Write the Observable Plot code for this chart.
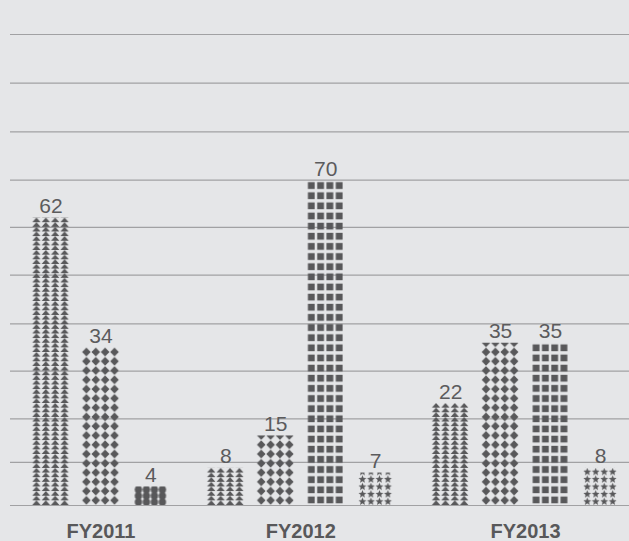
<!DOCTYPE html>
<html><head><meta charset="utf-8">
<script src="https://cdn.jsdelivr.net/npm/d3@7"></script>
<script src="https://cdn.jsdelivr.net/npm/@observablehq/plot@0.6"></script>
<style>
html,body{margin:0;padding:0;background:#e5e6e8;}
#chart svg{display:block;}
</style></head><body><div id="chart"></div>
<script>
// ---- data ----
const groups = ["FY2011", "FY2012", "FY2013"];
const barGroup = ["FY2011","FY2011","FY2011","FY2012","FY2012","FY2012","FY2012","FY2013","FY2013","FY2013","FY2013"];
const barSymbol = ["triangle","diamond","circle","triangle","diamond","square","star","triangle","diamond","square","star"];
const barValue = [62, 34, 4, 8, 15, 70, 7, 22, 35, 35, 8];
const gridValues = [0, 9.3, 18.7, 29, 39.2, 49.7, 60, 70.2, 80.6, 91.1, 101.6];

// ---- style ----
const INK = "#58585a";
const symbolStyle = {
  triangle: {half: 0.375, unitsPerRow: 1},
  diamond:  {half: 0.375, unitsPerRow: 2},
  circle:   {half: 0.32,  unitsPerRow: 4 / 3},
  square:   {half: 0.372, unitsPerRow: 70 / 32},
  star:     {half: 0.34,  unitsPerRow: 1.6}
};
const GROUP_GAP = 0.5;

// ---- table built from the arrays ----
let slot = 0;
const rows = [];
const groupCenters = [];
groups.forEach((g, gi) => {
  if (gi > 0) slot += GROUP_GAP;
  const first = slot;
  barGroup.forEach((bg, i) => {
    if (bg === g) { rows.push({group: g, symbol: barSymbol[i], value: barValue[i], slot}); slot++; }
  });
  groupCenters.push({group: g, slot: (first + slot - 1) / 2});
});

const chart = Plot.plot({
  width: 629, height: 541,
  marginLeft: 10, marginRight: 0, marginTop: 34, marginBottom: 36,
  x: {type: "linear", domain: [-0.811, 11.581], axis: null},
  y: {domain: [0, 101.6], axis: null},
  style: {background: "#e5e6e8", fontFamily: "'Liberation Sans', Arial, sans-serif", overflow: "visible"},
  marks: [
    Plot.ruleY(gridValues, {stroke: "#a1a1a3", strokeWidth: 1.2}),
    Plot.rectY(rows, {
      x1: d => d.slot - symbolStyle[d.symbol].half,
      x2: d => d.slot + symbolStyle[d.symbol].half,
      y1: 0, y2: "value", fill: INK
    }),
    Plot.text(rows, {x: "slot", y: "value", text: d => String(d.value), dy: -5, lineAnchor: "bottom",
      fontSize: 21, fill: "#5b5b5d"}),
    Plot.text(groupCenters, {x: "slot", frameAnchor: "bottom", text: "group", dy: 32, lineAnchor: "bottom",
      fontSize: 20, fontWeight: "bold", fill: INK})
  ]
});
document.getElementById("chart").appendChild(chart);

// ---- pictogram fills: one pattern per bar, aligned to the bar and its baseline ----
const ns = "http://www.w3.org/2000/svg";
const defs = document.createElementNS(ns, "defs");
chart.insertBefore(defs, chart.firstChild);
const ys = chart.scale("y");
const unitPx = ys.apply(0) - ys.apply(1);

function symbolMarkup(sym, tw, th) {
  const cx = tw / 2, cy = th / 2;
  switch (sym) {
    case "triangle":
      return `<polygon points="${cx},0 ${tw - 0.5},${th} 0.5,${th}" fill="${INK}"/>`;
    case "diamond":
      return `<polygon points="${cx},0.3 ${tw - 0.4},${cy} ${cx},${th - 0.3} 0.4,${cy}" fill="${INK}"/>`;
    case "circle":
      return `<circle cx="${cx}" cy="${cy}" r="${Math.min(tw / 2 - 0.2, 3.7)}" fill="${INK}"/>`;
    case "square": {
      const s = 6.8;
      return `<rect x="${(tw - s) / 2}" y="${(th - s) / 2}" width="${s}" height="${s}" fill="${INK}"/>`;
    }
    case "star": {
      const R = 4.1, r = 1.8, pts = [];
      for (let k = 0; k < 10; k++) {
        const a = -Math.PI / 2 + k * Math.PI / 5, rad = k % 2 ? r : R;
        pts.push(`${cx + rad * Math.cos(a)},${cy + 0.3 + rad * Math.sin(a)}`);
      }
      return `<polygon points="${pts.join(" ")}" fill="${INK}"/>`;
    }
  }
  return "";
}

const rects = chart.querySelectorAll('g[aria-label="rect"] rect');
rects.forEach((r, i) => {
  const d = rows[i];
  const st = symbolStyle[d.symbol];
  const x = +r.getAttribute("x"), y = +r.getAttribute("y");
  const w = +r.getAttribute("width"), h = +r.getAttribute("height");
  const tw = w / 4, th = st.unitsPerRow * unitPx;
  const p = document.createElementNS(ns, "pattern");
  p.setAttribute("id", "pict" + i);
  p.setAttribute("patternUnits", "userSpaceOnUse");
  p.setAttribute("x", x);
  p.setAttribute("y", y + h);
  p.setAttribute("width", tw);
  p.setAttribute("height", th);
  p.innerHTML = symbolMarkup(d.symbol, tw, th);
  defs.appendChild(p);
  r.setAttribute("fill", `url(#pict${i})`);
});
</script>
</body></html>
